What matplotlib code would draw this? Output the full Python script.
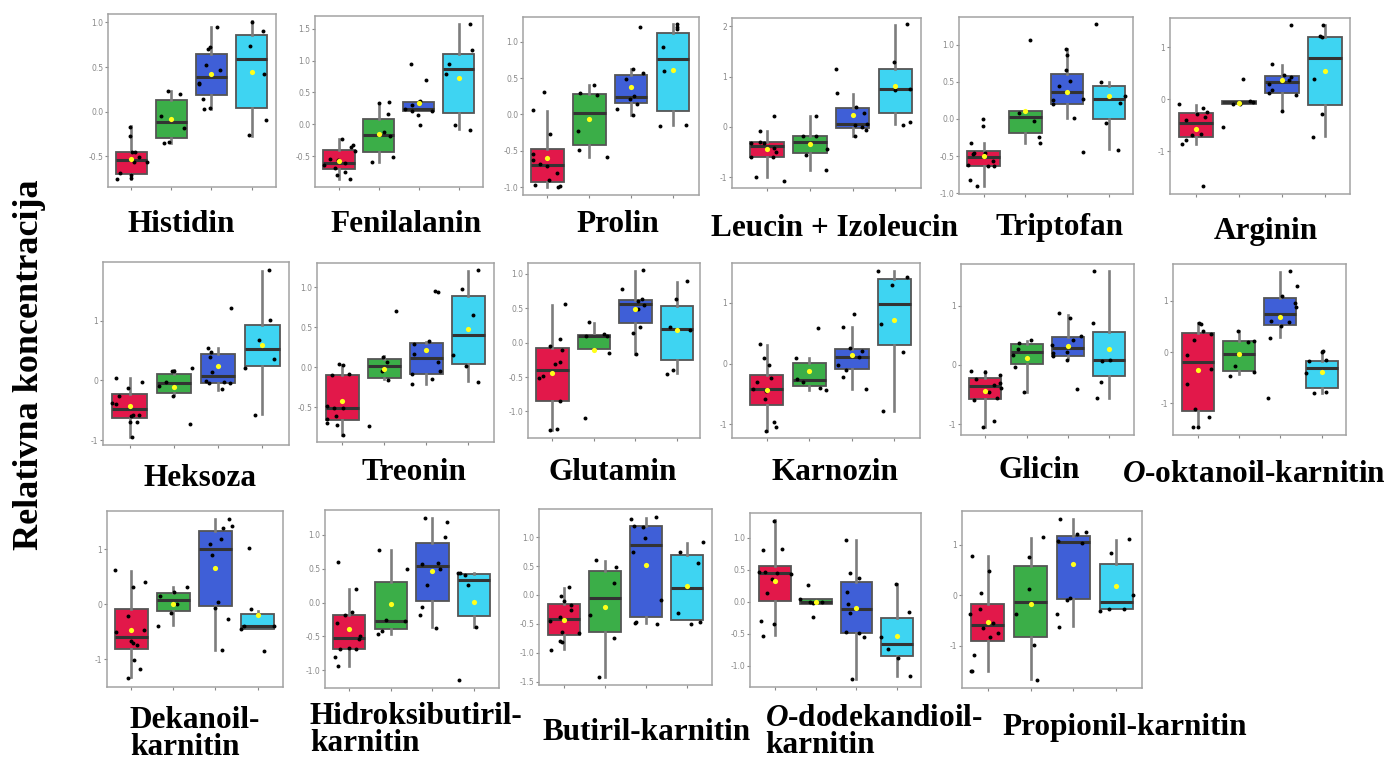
import matplotlib
matplotlib.use("Agg")
import matplotlib.pyplot as plt

plt.rcParams["mathtext.fontset"] = "custom"
plt.rcParams["mathtext.it"] = "Liberation Serif:italic:bold"
plt.rcParams["mathtext.rm"] = "Liberation Serif:bold"

# ---- data: per group [whisker lo, Q1, median, Q3, whisker hi, mean]; points as (jitter, value) ----
HIS_BOX = [[-0.757, -0.694, -0.536, -0.45, -0.157, -0.525],
           [-0.356, -0.30, -0.112, 0.131, 0.232, -0.086],
           [0.026, 0.184, 0.394, 0.652, 0.949, 0.424],
           [-0.27, 0.037, 0.592, 0.862, 1.012, 0.45]]
HIS_PTS = [[(-0.36, -0.757), (-0.28, -0.686), (-0.04, -0.169), (-0.04, -0.27), (0.03, -0.45), (0.09, -0.45),
            (0, -0.705), (0.06, -0.562), (0.19, -0.506), (0.39, -0.562), (0, -0.74)],
           [(-0.25, -0.049), (-0.08, 0.232), (0.21, 0.199), (-0.18, -0.356), (-0.06, -0.337), (0.31, -0.18)],
           [(0.15, 0.949), (-0.08, 0.701), (-0.03, 0.724), (-0.14, 0.525), (-0.31, 0.319), (-0.31, 0.307),
            (0.21, 0.465), (-0.21, 0.142), (-0.19, 0.026), (-0.04, 0.045)],
           [(0, 1.005), (-0.03, 0.739), (0.29, 0.907), (0.32, 0.427), (0.35, -0.097), (-0.07, -0.266)]]

FEN_BOX = [[-0.853, -0.707, -0.613, -0.403, -0.225, -0.571],
           [-0.592, -0.435, -0.162, 0.089, 0.34, -0.147],
           [0.204, 0.209, 0.236, 0.346, 0.366, 0.335],
           [-0.079, 0.183, 0.874, 1.11, 1.581, 0.733]]
FEN_PTS = [[(-0.37, -0.644), (-0.23, -0.539), (-0.11, -0.686), (-0.06, -0.791), (0.08, -0.225), (0.15, -0.602),
            (0.15, -0.749), (0.28, -0.853), (0.29, -0.356), (0.36, -0.33), (0.40, -0.419), (-0.03, -0.565)],
           [(-0.18, -0.592), (0, 0.34), (0.23, 0.168), (0.25, 0.351), (0.13, -0.12), (0.29, -0.188), (0.36, -0.513)],
           [(-0.2, 0.953), (0.18, 0.691), (-0.35, 0.246), (-0.18, 0.298), (0.04, 0.366), (-0.02, 0.152),
            (0.03, -0.005), (0.32, 0.209), (-0.18, 0.204)],
           [(0.28, 1.581), (0.34, 1.162), (-0.24, 0.953), (-0.31, 0.785), (-0.08, -0.016), (0.28, -0.094)]]

PRO_BOX = [[-0.995, -0.927, -0.697, -0.482, 0.046, -0.601],
           [-0.583, -0.422, 0.014, 0.289, 0.413, -0.06],
           [-0.01, 0.165, 0.243, 0.55, 0.633, 0.381],
           [-0.147, 0.046, 0.771, 1.124, 1.243, 0.61]]
PRO_PTS = [[(-0.33, 0.055), (-0.08, 0.312), (0.06, -0.275), (-0.34, -0.546), (-0.34, -0.628), (-0.18, -0.688),
            (-0.01, -0.711), (0.04, -0.904), (0.24, -0.812), (-0.3, -0.977), (0.26, -1.005), (0.31, -0.991)],
           [(-0.22, 0.303), (0.11, 0.413), (0.18, 0.266), (-0.26, -0.229), (-0.25, -0.486), (0.42, -0.592)],
           [(0.22, 1.202), (0.04, 0.624), (0.28, 0.569), (-0.12, 0.486), (-0.02, 0.22), (0.08, 0.248),
            (0.14, 0.147), (-0.33, 0.078), (0.04, -0.009)],
           [(0.1, 1.243), (0.1, 1.211), (0.1, 1.183), (-0.24, 0.931), (-0.22, 0.606), (-0.3, -0.156), (0.32, -0.147)]]

LEU_BOX = [[-1.0, -0.6, -0.389, -0.303, -0.079, -0.442],
           [-0.85, -0.527, -0.303, -0.185, 0.224, -0.33],
           [-0.178, -0.02, 0.066, 0.369, 0.653, 0.237],
           [0.053, 0.27, 0.745, 1.147, 2.017, 0.811]]
LEU_PTS = [[(-0.38, -0.323), (-0.16, -0.079), (-0.17, -0.29), (-0.06, -0.323), (0.17, 0.224), (0.16, -0.422),
            (0.21, -0.501), (0.14, -0.606), (-0.38, -0.6), (-0.27, -1.0), (0.39, -1.068)],
           [(-0.17, -0.185), (0.14, -0.185), (0.14, 0.224), (-0.09, -0.554), (0.4, -0.435), (0.38, -0.857)],
           [(-0.38, 1.14), (-0.37, 0.666), (0.09, 0.402), (0.26, 0.283), (0.06, 0.04), (0.22, 0.007),
            (0.34, 0.066), (0.32, -0.066), (0.05, -0.178)],
           [(0.27, 2.037), (-0.04, 1.279), (0, 0.732), (0.34, 0.745), (0.18, 0.04), (0.34, 0.105)]]

TRI_BOX = [[-0.901, -0.641, -0.516, -0.426, -0.327, -0.498],
           [-0.318, -0.193, 0.022, 0.108, 0.108, 0.112],
           [0.009, 0.202, 0.359, 0.614, 0.951, 0.368],
           [-0.408, 0.004, 0.265, 0.448, 0.493, 0.314]]
TRI_PTS = [[(-0.37, -0.628), (-0.3, -0.318), (-0.26, -0.471), (-0.22, -0.462), (-0.02, -0.004), (-0.02, -0.09),
            (0.03, -0.462), (0.1, -0.637), (0.22, -0.574), (0.24, -0.637), (-0.32, -0.821), (-0.16, -0.901)],
           [(0.12, 1.067), (-0.15, 0.076), (0.2, -0.031), (0.33, -0.247), (0.34, -0.327)],
           [(-0.03, 0.942), (0, 0.861), (-0.03, 0.655), (-0.2, 0.444), (0.08, 0.511), (-0.34, 0.256),
            (-0.34, 0.197), (0.38, 0.269), (0.17, 0.009), (0.38, -0.444)],
           [(-0.3, 1.278), (-0.19, 0.502), (0.38, 0.314), (0.28, 0.215), (-0.06, -0.058), (0.21, -0.417)]]

ARG_BOX = [[-0.859, -0.731, -0.462, -0.269, -0.109, -0.571],
           [-0.09, -0.09, -0.064, -0.045, -0.045, -0.077],
           [-0.224, 0.115, 0.321, 0.449, 0.66, 0.372],
           [-0.718, -0.109, 0.788, 1.192, 1.417, 0.532]]
ARG_PTS = [[(-0.39, -0.096), (-0.24, -0.41), (0.02, -0.282), (-0.31, -0.865), (-0.23, -0.782), (-0.1, -0.686),
            (0.13, -0.673), (0.22, -0.353), (0.17, -0.173), (0.26, -0.25), (0.17, -1.679)],
           [(-0.38, -0.538), (0.09, 0.391), (-0.13, -0.09), (0.02, -0.09), (0.26, -0.045), (0.33, -0.058)],
           [(0.2, 1.417), (-0.23, 0.673), (0.04, 0.468), (0.22, 0.423), (-0.29, 0.288), (-0.23, 0.179),
            (-0.29, 0.115), (0.16, 0.359), (0.32, 0.083), (0, -0.224)],
           [(-0.05, 1.429), (-0.12, 1.205), (-0.08, 1.199), (-0.25, 0.385), (-0.08, -0.288), (-0.29, -0.724)]]

HEK_BOX = [[-0.942, -0.624, -0.485, -0.228, 0.033, -0.429],
           [-0.245, -0.212, -0.05, 0.106, 0.173, -0.117],
           [-0.156, -0.05, 0.072, 0.446, 0.535, 0.245],
           [-0.568, 0.24, 0.518, 0.925, 1.833, 0.591]]
HEK_PTS = [[(-0.3, 0.045), (-0.39, -0.373), (-0.3, -0.401), (-0.24, -0.262), (-0.03, -0.134), (0.29, -0.033),
            (0.04, -0.596), (0.08, -0.585), (0.02, -0.691), (0.17, -0.691), (0.21, -0.579), (0.05, -0.942)],
           [(-0.33, -0.089), (-0.18, -0.022), (-0.05, 0.156), (0, 0.162), (-0.03, -0.256), (0.4, 0.2), (0.36, -0.735)],
           [(0.28, 1.214), (-0.23, 0.546), (-0.17, 0.479), (-0.19, 0.396), (-0.14, 0.134), (-0.28, -0.011),
            (-0.2, -0.045), (0.08, -0.15), (0.13, -0.033), (0.26, -0.05)],
           [(0.15, 1.85), (0.17, 1.014), (-0.08, 0.674), (0.26, 0.362), (-0.4, 0.2), (-0.16, -0.579)]]

TRE_BOX = [[-0.842, -0.663, -0.513, -0.092, 0.033, -0.425],
           [-0.146, -0.133, 0.013, 0.104, 0.138, -0.017],
           [-0.208, -0.083, 0.117, 0.308, 0.317, 0.221],
           [-0.175, 0.046, 0.404, 0.896, 1.2, 0.475]]
TRE_PTS = [[(-0.07, 0.042), (0.02, 0.033), (-0.25, -0.092), (0.17, -0.079), (-0.37, -0.488), (-0.2, -0.513),
            (0.02, -0.508), (-0.36, -0.642), (-0.15, -0.613), (-0.37, -0.696), (-0.12, -0.725), (0.02, -0.842)],
           [(0.27, 0.7), (-0.04, 0.129), (0.06, 0.067), (-0.06, -0.05), (0.1, -0.163), (-0.37, -0.738)],
           [(0.2, 0.95), (0.28, 0.942), (0.06, 0.325), (-0.29, 0.292), (-0.29, 0.167), (0.28, 0.063),
            (0.32, -0.05), (-0.34, -0.079), (-0.34, -0.208), (0.14, -0.146)],
           [(0.24, 1.213), (-0.16, 0.983), (0.1, 0.65), (-0.37, 0.158), (-0.06, 0.017), (0.22, -0.179)]]

GLU_BOX = [[-1.275, -0.847, -0.399, -0.083, 0.55, -0.448],
           [-0.097, -0.097, 0.097, 0.112, 0.282, -0.107],
           [-0.17, 0.282, 0.56, 0.623, 1.046, 0.487],
           [-0.448, -0.258, 0.195, 0.526, 0.881, 0.18]]
GLU_PTS = [[(-0.05, -0.044), (0.3, 0.564), (0.19, 0.054), (0.23, -0.102), (0.19, -0.277), (0.06, -0.316),
            (-0.24, -0.482), (-0.32, -0.511), (0.18, -0.842), (-0.05, -1.275), (0.11, -1.251)],
           [(-0.12, 0.297), (-0.18, 0.097), (0.25, 0.122), (0.31, 0.102), (0.37, -0.156), (-0.22, -1.095)],
           [(0.19, 1.051), (-0.33, 0.779), (0.07, 0.608), (0.17, 0.633), (0.22, 0.54), (0.07, 0.491),
            (0.11, 0.229), (-0.05, 0.136), (0.02, -0.17)],
           [(0.24, 0.9), (-0.02, 0.633), (-0.16, 0.224), (0.32, 0.18), (-0.1, -0.399), (-0.24, -0.457)]]

KAR_BOX = [[-1.101, -0.674, -0.416, -0.181, 0.312, -0.427],
           [-0.427, -0.373, -0.274, 0.011, 0.093, -0.115],
           [-0.411, -0.082, 0.11, 0.241, 0.597, 0.137],
           [-0.784, 0.312, 0.981, 1.397, 1.518, 0.718]]
KAR_PTS = [[(-0.16, 0.323), (-0.06, 0.093), (0.06, -0.016), (-0.23, -0.296), (-0.33, -0.416), (0.09, -0.241),
            (-0.02, -0.444), (-0.04, -0.575), (0.17, -0.964), (0.21, -1.041), (-0.02, -1.101)],
           [(0.2, 0.586), (-0.31, 0.093), (-0.29, -0.247), (-0.16, -0.301), (0.26, -0.4), (0.38, -0.427)],
           [(0.06, 0.816), (-0.2, 0.608), (-0.04, 0.258), (0.24, 0.203), (0.16, 0.104), (-0.33, -0.016),
            (-0.15, -0.099), (-0.21, -0.225), (0.32, -0.416)],
           [(-0.38, 1.529), (-0.06, 1.299), (0.3, 1.425), (-0.32, 0.658), (0.2, 0.186), (-0.26, -0.784)]]

GLI_BOX = [[-1.054, -0.575, -0.355, -0.225, -0.101, -0.439],
           [-0.462, 0.017, 0.225, 0.349, 0.406, 0.113],
           [0.113, 0.141, 0.282, 0.468, 0.845, 0.31],
           [-0.552, -0.192, 0.079, 0.552, 1.577, 0.27]]
GLI_PTS = [[(-0.35, -0.101), (-0.22, -0.237), (-0.02, -0.113), (0.35, -0.169), (0.2, -0.338), (0.36, -0.31),
            (0.39, -0.383), (0.1, -0.462), (0.28, -0.563), (-0.28, -0.592), (0.22, -0.941), (-0.06, -1.054)],
           [(0.1, 0.411), (-0.18, 0.377), (-0.22, 0.265), (-0.34, 0.169), (-0.28, -0.039), (-0.06, -0.462)],
           [(-0.22, 0.868), (0.05, 0.789), (0.31, 0.479), (0.13, 0.423), (-0.39, 0.338), (-0.35, 0.197),
            (-0.35, 0.141), (-0.02, 0.225), (-0.03, 0.085), (0.21, -0.406)],
           [(-0.37, 1.589), (-0.39, 0.699), (-0.17, 0.068), (0.03, 0.085), (-0.2, -0.282), (-0.29, -0.552)]]

OKT_BOX = [[-1.453, -1.14, -0.195, 0.371, 0.567, -0.345],
           [-0.423, -0.365, -0.033, 0.221, 0.417, -0.039],
           [0.287, 0.521, 0.749, 1.055, 1.564, 0.684],
           [-0.788, -0.691, -0.3, -0.163, 0.013, -0.391]]
OKT_PTS = [[(0.02, 0.567), (0.08, 0.547), (0.13, 0.417), (0.32, 0.358), (-0.08, 0.228), (-0.26, -0.052),
            (0.31, -0.332), (-0.26, -0.625), (-0.06, -1.107), (0.27, -1.257), (-0.11, -1.453), (0, -1.453)],
           [(-0.02, 0.417), (0.22, 0.195), (0.35, 0.221), (-0.1, -0.267), (0.36, -0.391), (-0.23, -0.456)],
           [(0.24, 1.577), (0.4, 1.283), (0.04, 1.088), (0.39, 0.879), (0.36, 0.958), (-0.22, 0.599),
            (0.22, 0.58), (0.02, 0.502), (-0.26, 0.274), (-0.29, -0.886)],
           [(0.04, 0.013), (0.02, 0.0), (-0.3, -0.182), (0.1, -0.15), (-0.38, -0.41), (-0.19, -0.801), (0.1, -0.782)]]

DEK_BOX = [[-1.325, -0.809, -0.596, -0.097, 0.608, -0.462],
           [-0.383, -0.122, 0.073, 0.195, 0.316, 0.012],
           [-0.839, -0.036, 0.997, 1.337, 1.55, 0.65],
           [-0.444, -0.444, -0.395, -0.17, -0.116, -0.201]]
DEK_PTS = [[(-0.39, 0.62), (0.04, 0.316), (0.34, 0.395), (-0.08, -0.219), (-0.36, -0.511), (0.3, -0.474),
            (0, -0.675), (0.05, -0.699), (0.14, -0.736), (0.08, -1.021), (0.22, -1.185), (-0.07, -1.343)],
           [(0.32, 0.316), (0.02, 0.213), (-0.32, 0.152), (0.09, 0.012), (-0.06, -0.152), (-0.36, -0.401)],
           [(0.32, 1.55), (0.38, 1.422), (0.18, 1.392), (0.14, 1.185), (-0.14, 1.094), (-0.08, 0.894),
            (0.06, 0.043), (-0.02, -0.061), (0.3, -0.261), (0.16, -0.839)],
           [(-0.21, 1.027), (-0.17, -0.097), (-0.33, -0.395), (-0.39, -0.444), (0.38, -0.395), (0.16, -0.857)]]

HID_BOX = [[-0.938, -0.681, -0.519, -0.178, 0.198, -0.385],
           [-0.459, -0.395, -0.272, 0.306, 0.775, -0.025],
           [-0.36, 0.02, 0.538, 0.874, 1.244, 0.469],
           [-0.36, -0.202, 0.331, 0.415, 0.43, 0.01]]
HID_PTS = [[(-0.26, 0.602), (0.16, 0.207), (0.08, -0.143), (-0.09, -0.188), (-0.29, -0.296), (0.26, -0.494),
            (0.23, -0.543), (-0.22, -0.691), (-0.01, -0.672), (0.16, -0.691), (-0.34, -0.805), (-0.26, -0.943)],
           [(-0.29, 0.775), (0.38, 0.494), (-0.12, -0.262), (0.34, -0.277), (-0.22, -0.425), (-0.3, -0.459)],
           [(-0.18, 1.254), (0.36, 1.195), (0.3, 0.963), (-0.26, 0.568), (0.14, 0.578), (0.19, 0.489),
            (-0.14, 0.257), (-0.26, -0.064), (-0.29, -0.178), (0.08, -0.37)],
           [(-0.38, 0.43), (-0.34, 0.44), (-0.22, 0.405), (-0.14, 0.257), (0.04, -0.36), (-0.36, -1.141)]]

BUT_BOX = [[-0.931, -0.69, -0.42, -0.155, 0.126, -0.431],
           [-1.408, -0.644, -0.057, 0.414, 0.586, -0.201],
           [-0.489, -0.374, 0.862, 1.19, 1.322, 0.517],
           [-0.431, -0.431, 0.126, 0.69, 0.902, 0.155]]
BUT_PTS = [[(0.13, 0.132), (-0.06, -0.011), (0.02, -0.103), (0.19, -0.172), (0.17, -0.259), (-0.08, -0.385),
            (-0.34, -0.443), (-0.03, -0.632), (0.37, -0.661), (-0.1, -0.793), (-0.04, -0.805), (-0.3, -0.948)],
           [(-0.22, 0.603), (0.27, 0.489), (0.22, 0.213), (-0.35, -0.345), (0.22, -0.747), (-0.14, -1.408)],
           [(-0.35, 1.31), (0.24, 1.339), (-0.29, 1.195), (-0.08, 1.167), (-0.02, 0.977), (-0.32, 0.747),
            (0.36, -0.086), (-0.24, -0.471), (-0.27, -0.489), (0.27, -0.5)],
           [(0.39, 0.908), (-0.16, 0.747), (0.27, 0.557), (-0.22, -0.316), (0.31, -0.471), (0.1, -0.506)]]

DOD_BOX = [[-0.522, 0.016, 0.444, 0.564, 1.279, 0.329],
           [-0.037, -0.037, 0.0, 0.047, 0.047, 0.0],
           [-1.201, -0.486, -0.115, 0.313, 0.966, -0.104],
           [-1.159, -0.851, -0.653, -0.261, 0.277, -0.538]]
DOD_PTS = [[(-0.02, 1.264), (-0.29, 0.809), (0.16, 0.82), (-0.39, 0.46), (-0.26, 0.47), (0.04, 0.454),
            (0.39, 0.433), (-0.08, 0.355), (-0.2, 0.131), (-0.35, -0.298), (-0.04, -0.355), (-0.3, -0.533)],
           [(-0.18, 0.261), (-0.39, 0.042), (-0.14, 0.0), (-0.06, -0.016), (0.15, 0.0), (-0.08, -0.24)],
           [(-0.25, 0.966), (-0.16, 0.444), (0.06, 0.376), (-0.22, 0.146), (-0.2, -0.037), (-0.16, -0.183),
            (-0.26, -0.47), (0.07, -0.486), (0.18, -0.548), (-0.1, -1.201)],
           [(-0.02, 0.277), (0.3, -0.157), (-0.39, -0.559), (-0.23, -0.742), (0.02, -0.877), (0.31, -1.164)]]

PRP_BOX = [[-1.51, -0.914, -0.596, -0.185, 0.775, -0.53],
           [-1.669, -0.828, -0.132, 0.576, 1.126, -0.179],
           [-0.609, -0.079, 1.046, 1.179, 1.503, 0.609],
           [-0.278, -0.278, -0.132, 0.609, 1.093, 0.185]]
PRP_PTS = [[(-0.37, 0.781), (0.04, 0.483), (-0.16, 0.033), (-0.41, -0.364), (-0.17, -0.265), (0.12, -0.55),
            (-0.12, -0.649), (0.23, -0.748), (0.05, -0.834), (-0.31, -1.179), (-0.39, -1.51), (-0.37, -1.503)],
           [(0.3, 1.146), (-0.04, 0.748), (-0.04, 0.113), (-0.35, -0.364), (0.08, -0.98), (0.16, -1.689)],
           [(-0.32, 1.51), (0.08, 1.205), (0.3, 1.258), (-0.37, 1.073), (0.21, 1.026), (-0.14, -0.086),
            (-0.08, -0.066), (-0.39, -0.377), (-0.33, -0.629)],
           [(0.3, 1.106), (-0.13, 0.828), (0.39, 0.0), (-0.39, -0.311), (-0.16, -0.278), (0.18, -0.278)]]

TITLES = ["Histidin", "Fenilalanin", "Prolin", "Leucin + Izoleucin", "Triptofan", "Arginin",
          "Heksoza", "Treonin", "Glutamin", "Karnozin", "Glicin", r"$\mathit{O}$-oktanoil-karnitin",
          "Dekanoil-\nkarnitin", "Hidroksibutiril-\nkarnitin", "Butiril-karnitin",
          "$\\mathit{O}$-dodekandioil-\nkarnitin", "Propionil-karnitin"]
BOXES = [HIS_BOX, FEN_BOX, PRO_BOX, LEU_BOX, TRI_BOX, ARG_BOX, HEK_BOX, TRE_BOX, GLU_BOX,
         KAR_BOX, GLI_BOX, OKT_BOX, DEK_BOX, HID_BOX, BUT_BOX, DOD_BOX, PRP_BOX]
POINTS = [HIS_PTS, FEN_PTS, PRO_PTS, LEU_PTS, TRI_PTS, ARG_PTS, HEK_PTS, TRE_PTS, GLU_PTS,
          KAR_PTS, GLI_PTS, OKT_PTS, DEK_PTS, HID_PTS, BUT_PTS, DOD_PTS, PRP_PTS]
HALF = [-1, -0.5, 0, 0.5, 1]
UNIT = [-1, 0, 1]
YTICKS = [[-0.5, 0, 0.5, 1], [-0.5, 0, 0.5, 1, 1.5], HALF, [-1, 0, 1, 2], HALF, UNIT,
          UNIT, [-0.5, 0, 0.5, 1], HALF, UNIT, UNIT, UNIT,
          UNIT, HALF, [-1.5, -1, -0.5, 0, 0.5, 1], HALF, UNIT]

# ---- layout (pixels in the 1393x763 canvas) ----
W, H = 1393, 763
RECTS = [(108, 14, 276, 187), (315, 16, 483, 187), (523, 17, 699, 195), (732, 18, 921, 188),
         (959, 17, 1133, 194), (1170, 18, 1350, 194),
         (103, 262, 289, 445), (317, 263, 494, 442), (528, 263, 700, 438), (732, 263, 920, 438),
         (961, 264, 1134, 435), (1173, 264, 1346, 435),
         (107, 511, 283, 687), (325, 510, 499, 688), (539, 509, 712, 685), (750, 513, 921, 687),
         (962, 511, 1142, 688)]
YLIMS = [(-0.844, 1.095), (-0.984, 1.70), (-1.11, 1.344), (-1.213, 2.162), (-1.013, 1.377), (-1.827, 1.558),
         (-1.081, 1.983), (-0.933, 1.304), (-1.387, 1.158), (-1.222, 1.655), (-1.183, 1.701), (-1.616, 1.72),
         (-1.508, 1.696), (-1.264, 1.368), (-1.552, 1.483), (-1.332, 1.384), (-1.841, 1.669)]
XLIMS = [(0.42, 4.61), (0.4, 4.61), (0.42, 4.62), (0.18, 4.6), (0.41, 4.58), (0.4, 4.58),
         (0.4, 4.6), (0.4, 4.61), (0.41, 4.56), (0.18, 4.6), (0.41, 4.6), (0.4, 4.59),
         (0.43, 4.6), (0.42, 4.6), (0.4, 4.61), (0.38, 4.59), (0.4, 4.6)]
# title anchor: (x, y, ha)
TITLE_POS = [(181, 225, "center"), (406, 225, "center"), (618, 225, "center"), (835, 229, "center"),
             (1060, 227, "center"), (1266, 231, "center"),
             (200, 478, "center"), (414, 472, "center"), (613, 472, "center"), (835, 472, "center"),
             (1039, 470, "center"), (1254, 474, "center"),
             (130, 734, "left"), (310, 730, "left"), (647, 733, "center"), (765, 732, "left"),
             (1125, 728, "center")]

COLORS = ["#E2184A", "#3BAE48", "#3F5FD7", "#3ED4F2"]
SERIF = "Liberation Serif"

fig = plt.figure(figsize=(W / 100, H / 100), dpi=100)

for k in range(len(TITLES)):
    x0, y0, x1, y1 = RECTS[k]
    ax = fig.add_axes([x0 / W, 1 - y1 / H, (x1 - x0) / W, (y1 - y0) / H])
    box = BOXES[k]
    stats = [dict(whislo=b[0], q1=b[1], med=b[2], q3=b[3], whishi=b[4], fliers=[]) for b in box]
    bp = ax.bxp(stats, positions=[1, 2, 3, 4], widths=0.78, patch_artist=True, showcaps=False,
                boxprops=dict(edgecolor="#555555", linewidth=1.3),
                medianprops=dict(color="#333333", linewidth=2.2),
                whiskerprops=dict(color="#7d7d7d", linewidth=1.9))
    for patch, c in zip(bp["boxes"], COLORS):
        patch.set_facecolor(c)
    for i, grp in enumerate(POINTS[k], start=1):
        ax.scatter([i + dx for dx, _ in grp], [v for _, v in grp], s=8, color="black", zorder=4, linewidths=0)
    ax.scatter([1, 2, 3, 4], [b[5] for b in box], s=14, color="#FFFF1A", zorder=5, linewidths=0)

    ax.set_xlim(*XLIMS[k])
    ax.set_ylim(*YLIMS[k])
    ticks = YTICKS[k]
    if all(float(t).is_integer() for t in ticks):
        labels = ["%d" % t for t in ticks]
    else:
        labels = ["%.1f" % t for t in ticks]
    ax.set_yticks(ticks)
    ax.set_yticklabels(labels)
    ax.set_xticks([1, 2, 3, 4])
    ax.set_xticklabels([])
    ax.tick_params(length=2, width=0.8, color="#888888", labelsize=5.5, labelcolor="#888888", pad=1.5)
    for sp in ax.spines.values():
        sp.set_color("#a3a3a3")
        sp.set_linewidth(1.1)

    tx, ty, ha = TITLE_POS[k]
    fig.text(tx / W, 1 - ty / H, TITLES[k], ha=ha, va="center", multialignment="left",
             fontsize=22.5, fontweight="bold", family=SERIF, linespacing=0.9)

fig.text(30 / W, 1 - 365 / H, "Relativna koncentracija", rotation=90, ha="center", va="center",
         fontsize=26, fontweight="bold", family=SERIF)

fig.savefig("out.png", dpi=100)
